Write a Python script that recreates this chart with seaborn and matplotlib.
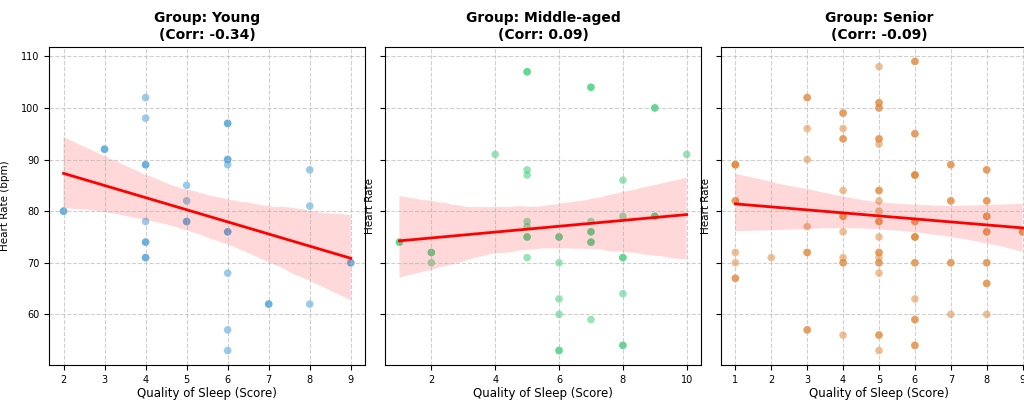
import numpy as np
import pandas as pd
from matplotlib import pyplot as plt
import seaborn as sns

# Quality of sleep score and heart rate by age group
young_quality = [2, 2, 3, 3, 4, 4, 4, 4, 4, 4, 4, 4, 4, 5, 5, 5, 5,
                 6, 6, 6, 6, 6, 6, 6, 6, 6, 6, 7, 7, 8, 8, 8, 9, 9]
young_hr = [80, 80, 92, 92, 102, 98, 89, 89, 78, 74, 74, 71, 71, 85, 82, 78, 78,
            97, 97, 90, 90, 89, 76, 76, 68, 57, 53, 62, 62, 88, 81, 62, 70, 70]

middle_quality = [1, 1, 2, 2, 2, 4, 5, 5, 5, 5, 5, 5, 5, 5, 5,
                  6, 6, 6, 6, 6, 6, 6, 7, 7, 7, 7, 7, 7, 7, 7,
                  8, 8, 8, 8, 8, 8, 8, 9, 9, 9, 9, 10]
middle_hr = [74, 74, 72, 72, 70, 91, 107, 107, 88, 87, 78, 77, 75, 75, 71,
             75, 75, 70, 63, 60, 53, 53, 104, 104, 78, 76, 76, 74, 74, 59,
             86, 79, 71, 71, 64, 54, 54, 100, 100, 79, 79, 91]

senior_quality = [1, 1, 1, 1, 1, 1, 1, 1, 1,
                  2,
                  3, 3, 3, 3, 3, 3, 3, 3, 3,
                  4, 4, 4, 4, 4, 4, 4, 4, 4, 4, 4, 4, 4,
                  5, 5, 5, 5, 5, 5, 5, 5, 5, 5, 5, 5,
                  5, 5, 5, 5, 5, 5, 5, 5, 5, 5, 5, 5,
                  6, 6, 6, 6, 6, 6, 6, 6, 6, 6,
                  6, 6, 6, 6, 6, 6, 6, 6, 6,
                  7, 7, 7, 7, 7, 7, 7,
                  8, 8, 8, 8, 8, 8, 8, 8, 8, 8, 8, 8, 8,
                  9, 9]
senior_hr = [89, 89, 89, 82, 82, 72, 70, 67, 67,
             71,
             102, 102, 96, 90, 77, 72, 72, 57, 57,
             99, 99, 96, 94, 94, 84, 79, 79, 76, 71, 70, 70, 56,
             108, 101, 101, 100, 100, 94, 94, 93, 84, 84, 82, 80,
             78, 78, 75, 72, 72, 71, 70, 70, 68, 56, 56, 53,
             109, 109, 95, 95, 87, 87, 87, 78, 78, 75,
             75, 75, 70, 70, 63, 59, 59, 54, 54,
             89, 89, 82, 82, 70, 70, 60,
             88, 88, 82, 82, 79, 79, 76, 76, 70, 70, 66, 66, 60,
             76, 76]

groups = ['Young', 'Middle-aged', 'Senior']
colors = ['#3498db', '#2ecc71', '#e67e22']
ylabels = ['Heart Rate (bpm)', 'Heart Rate', 'Heart Rate']

df = pd.concat([
    pd.DataFrame({'Quality of Sleep': young_quality, 'Heart Rate': young_hr, 'Group': 'Young'}),
    pd.DataFrame({'Quality of Sleep': middle_quality, 'Heart Rate': middle_hr, 'Group': 'Middle-aged'}),
    pd.DataFrame({'Quality of Sleep': senior_quality, 'Heart Rate': senior_hr, 'Group': 'Senior'}),
], ignore_index=True)

fig, axes = plt.subplots(1, 3, figsize=(10.24, 4.0), dpi=100, sharey=True)
fig.subplots_adjust(left=0.048, right=1.0127, top=0.8825, bottom=0.0875, wspace=0.063)

for i, (ax, group, color, ylabel) in enumerate(zip(axes, groups, colors, ylabels)):
    subset = df[df['Group'] == group]
    corr = subset['Quality of Sleep'].corr(subset['Heart Rate'])
    sns.regplot(data=subset, x='Quality of Sleep', y='Heart Rate', ax=ax,
                color=color, seed=3,
                scatter_kws={'alpha': 0.5, 's': 30, 'edgecolor': 'none'},
                line_kws={'color': 'red', 'linewidth': 2})
    ax.set_title(f'Group: {group}\n(Corr: {corr:.2f})', fontsize=10, fontweight='bold')
    ax.set_xlabel('Quality of Sleep (Score)', fontsize=8.5, labelpad=2)
    ax.set_ylabel(ylabel, fontsize=7.5, labelpad=8 if i == 0 else 4)
    ax.tick_params(labelsize=7)
    ax.grid(True, linestyle='--', alpha=0.6)

fig.savefig('out.png', dpi=100)
